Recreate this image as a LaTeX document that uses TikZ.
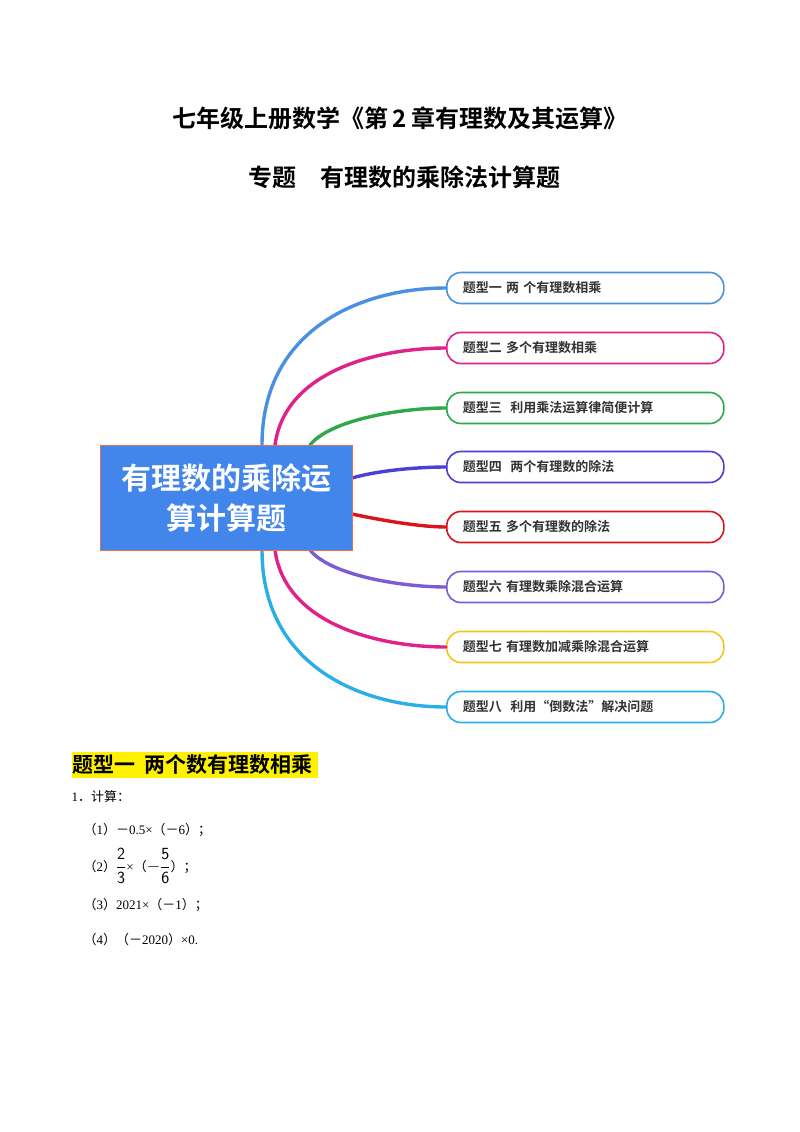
\documentclass[tikz,border=0pt]{standalone}
\usepackage{fontspec}
\setmainfont{Liberation Serif}
\newfontfamily\cjk{Noto Sans CJK SC}
\newfontfamily\cjkb{Noto Sans CJK SC Bold}
\newcommand{\fw}[1]{{\cjk #1}}
\newcommand{\bigfr}[2]{{\fontsize{17}{20}\selectfont$\displaystyle\frac{\mathsf{#1}}{\mathsf{#2}}$}}
\begin{document}
\begin{tikzpicture}[x=1pt,y=-1pt,
  topic/.style={draw,line width=1.6pt,rounded corners=14pt,minimum width=277pt,minimum height=31pt,anchor=west,inner xsep=16pt,text width=245pt,align=left,font=\cjkb\fontsize{13}{15}\selectfont,text=black!80,fill=white},
  br/.style={line width=3.4pt,line cap=round},
  item/.style={anchor=west,font=\fontsize{13}{15}\selectfont}]
\useasboundingbox (0,0) rectangle (800,1132);
\fill[white] (0,0) rectangle (800,1132);
\node (t1) at (400,118) {\cjkb\fontsize{24}{28}\selectfont 七年级上册数学《第\,2\,章有理数及其运算》};
\node (t2) at (404,177) {\cjkb\fontsize{24}{28}\selectfont 专题\quad 有理数的乘除法计算题};
\definecolor{c1}{HTML}{4A90E2}\definecolor{c2}{HTML}{E0218A}\definecolor{c3}{HTML}{2EA84A}
\definecolor{c4}{HTML}{4B3FD8}\definecolor{c5}{HTML}{D9141B}\definecolor{c6}{HTML}{7B5CD6}
\definecolor{c7}{HTML}{F5C518}\definecolor{c8}{HTML}{2BAEE8}
\foreach \i/\y/\c/\t in {1/288/c1/{题型一 两 个有理数相乘},2/348/c2/{题型二 多个有理数相乘},3/408/c3/{题型三\ \ 利用乘法运算律简便计算},4/467/c4/{题型四\ \ 两个有理数的除法},5/527/c5/{题型五 多个有理数的除法},6/587/c6/{题型六 有理数乘除混合运算},7/647/c7/{题型七 有理数加减乘除混合运算},8/707/c8/{题型八\ \ 利用“倒数法”解决问题}}
  \node[topic,draw=\c] (k\i) at (446,\y) {\t};
\coordinate (s1) at (262,445);\coordinate (s2) at (275,445);\coordinate (s3) at (310,445);
\coordinate (s4) at (352,478);\coordinate (s5) at (352,514);
\coordinate (s6) at (310,550);\coordinate (s7) at (275,550);\coordinate (s8) at (262,550);
\draw[br,c1] (s1) .. controls (262,330) and (360,288) .. (k1.west);
\draw[br,c2] (s2) .. controls (285,370) and (380,348) .. (k2.west);
\draw[br,c3] (s3) .. controls (330,420) and (400,408) .. (k3.west);
\draw[br,c4] (s4) .. controls (380,470) and (420,467) .. (k4.west);
\draw[br,c5] (s5) .. controls (380,520) and (420,527) .. (k5.west);
\draw[br,c6] (s6) .. controls (330,575) and (400,587) .. (k6.west);
\draw[br,c2] (s7) .. controls (285,625) and (380,647) .. (k7.west);
\draw[br,c8] (s8) .. controls (262,665) and (360,707) .. (k8.west);
\node[draw={rgb,255:red,230;green,110;blue,80},line width=1pt,fill={rgb,255:red,66;green,133;blue,235},minimum width=252pt,minimum height=105pt,text=white,align=center,font=\cjkb\fontsize{30}{40}\selectfont] (c) at (226,497.5) {有理数的乘除运\\算计算题};
\fill[yellow] (72,752) rectangle (318,778);
\node[anchor=west,font=\cjkb\fontsize{21}{24}\selectfont,inner sep=0pt] (h) at (72,765) {题型一\ \ 两个数有理数相乘};
\node[item] (q) at (68,797) {1\fw{．计算：}};
\node[item] (a1) at (80,830) {\fw{（}1\fw{）－}0.5×\fw{（－}6\fw{）；}};
\node[item] (a2) at (80,866) {\fw{（}2\fw{）}\bigfr{2}{3}×\fw{（}{\fontsize{17}{20}\selectfont$-$}\bigfr{5}{6}\fw{）；}};
\node[item] (a3) at (80,905) {\fw{（}3\fw{）}2021×\fw{（－}1\fw{）；}};
\node[item] (a4) at (80,940) {\fw{（}4\fw{）（－}2020\fw{）}×0.};
\end{tikzpicture}
\end{document}
